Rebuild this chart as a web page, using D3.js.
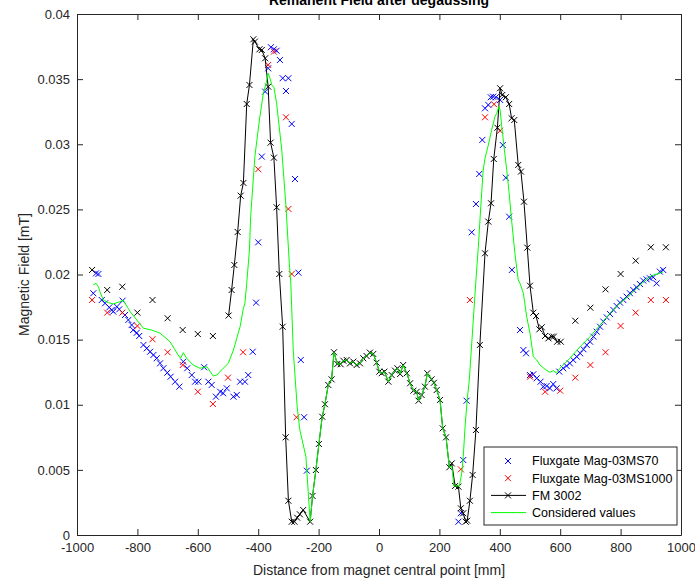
<!DOCTYPE html>
<html>
<head>
<meta charset="utf-8">
<script src="https://cdn.jsdelivr.net/npm/d3@7"></script>
<style>
  body { margin: 0; background: #fff; }
  svg { display: block; font-family: "Liberation Sans", Arial, sans-serif; }
</style>
</head>
<body>
<svg id="chart" width="695" height="578"></svg>
<script>
// ---------- DATA ----------
const title = "Remanent Field after degaussing";
const xLabel = "Distance from magnet central point [mm]";
const yLabel = "Magnetic Field [mT]";
const xTicks = [-1000, -800, -600, -400, -200, 0, 200, 400, 600, 800, 1000];
const xTickLabels = ["-1000", "-800", "-600", "-400", "-200", "0", "200", "400", "600", "800", "1000"];
const yTicks = [0, 0.005, 0.01, 0.015, 0.02, 0.025, 0.03, 0.035, 0.04];
const yTickLabels = ["0", "0.005", "0.01", "0.015", "0.02", "0.025", "0.03", "0.035", "0.04"];
const seriesNames = ["Fluxgate Mag-03MS70", "Fluxgate Mag-03MS1000", "FM 3002", "Considered values"];

// Fluxgate Mag-03MS70 (blue x)
const mag70 = [
  [-946,0.01856],[-937,0.02009],[-929,0.02004],[-918,0.01804],[-907,0.01779],[-893,0.01748],[-885,0.01728],
  [-880,0.01715],[-868,0.01753],[-860,0.01733],[-849,0.01799],[-841,0.01689],[-830,0.01651],[-819,0.01612],
  [-814,0.01574],[-802,0.01553],[-794,0.01528],[-780,0.01459],[-769,0.01433],[-758,0.01407],[-747,0.01382],
  [-736,0.01357],[-725,0.01318],[-714,0.0128],[-701,0.01246],[-690,0.01215],[-675,0.01177],[-661,0.01139],
  [-648,0.01331],[-635,0.0128],[-620,0.01228],[-609,0.01177],[-598,0.01177],[-579,0.01288],[-565,0.01177],
  [-554,0.01152],[-540,0.01062],[-526,0.011],[-516,0.01088],[-504,0.01126],[-482,0.01062],[-471,0.01075],
  [-460,0.01177],[-444,0.01177],[-433,0.01228],[-418,0.01407],[-407,0.01784],
  [-400,0.02247],[-388,0.02905],[-377,0.03404],[-367,0.03583],[-358,0.03745],[-348,0.03729],[-339,0.03718],
  [-328,0.03647],[-319,0.03507],[-300,0.03507],[-308,0.03409],[-289,0.03156],[-278,0.02733],[-267,0.02014],
  [-259,0.01344],[-248,0.00904],[-239,0.00494],
  [263,0.00102],[271,0.00167],[279,0.00576],[290,0.01031],[307,0.02324],[321,0.02541],[332,0.02772],
  [342,0.03033],[351,0.03276],[362,0.03302],[370,0.03361],[378,0.03365],[387,0.03361],[401,0.0334],
  [410,0.02994],[420,0.02743],[431,0.02444],[440,0.02035],[467,0.01574],[478,0.0142],[487,0.01395],
  [500,0.01228],[511,0.01234],[522,0.01203],[535,0.01177],[544,0.01139],[555,0.01144],[566,0.01126],
  [577,0.01159],[588,0.01126],[597,0.01254],[610,0.0128],[621,0.01298],[632,0.01318],[643,0.01344],
  [655,0.01369],[666,0.01395],[677,0.01426],[688,0.01459],[699,0.01484],[710,0.01523],[721,0.01561],
  [732,0.01599],[743,0.01638],[754,0.01671],[765,0.01697],[776,0.01728],[787,0.01758],[798,0.01784],
  [809,0.01804],[820,0.0183],[831,0.01856],[842,0.01881],[853,0.01902],[864,0.01927],[875,0.01953],
  [886,0.01963],[897,0.01971],[908,0.01979],[919,0.01932],[930,0.02022],[941,0.02035]
];

// Fluxgate Mag-03MS1000 (red x)
const mag1000 = [
  [-950,0.01804],[-900,0.01707],[-850,0.01707],[-800,0.01605],[-750,0.01503],[-700,0.01403],[-650,0.01305],
  [-600,0.011],[-550,0.01006],[-500,0.01208],[-450,0.01403],[-400,0.02808],[-367,0.03609],[-348,0.03711],
  [-308,0.03207],[-300,0.02503],[-289,0.02004],[-273,0.00904],
  [271,0.00504],[301,0.01804],[351,0.03207],[381,0.03307],[401,0.03104],
  [500,0.01215],[550,0.011],[600,0.01108],[650,0.01208],[700,0.01305],[750,0.01403],[800,0.01605],
  [850,0.01707],[900,0.01804],[950,0.01804]
];

// FM 3002 (black line with x markers; null = gap in the line)
const fm3002 = [
  [-950,0.02035],null,[-900,0.01881],null,[-850,0.01906],null,[-800,0.01707],null,[-750,0.01804],null,
  [-700,0.01664],null,[-650,0.01574],null,[-600,0.01543],null,[-550,0.01528],null,
  [-498,0.01685],[-488,0.01881],[-479,0.02073],[-468,0.02326],[-458,0.02605],[-449,0.02703],[-438,0.03309],
  [-429,0.03455],[-416,0.03806],[-411,0.03788],[-396,0.03729],[-388,0.03724],[-377,0.0366],[-367,0.03442],
  [-359,0.03012],[-348,0.02897],[-339,0.02516],[-330,0.02004],[-319,0.01599],[-309,0.0075],[-300,0.00263],
  [-289,0.00102],[-280,0.00102],[-271,0.00133],[-262,0.00159],[-251,0.00192],[-228,0.00102],[-220,0.003],
  [-209,0.00499],[-199,0.00699],[-188,0.00908],[-179,0.01004],[-168,0.01152],[-157,0.01195],[-149,0.01403],
  [-138,0.01313],[-127,0.01311],[-118,0.01338],[-107,0.01344],[-96,0.01318],[-85,0.01331],[-74,0.01305],
  [-63,0.01318],[-52,0.01357],[-41,0.01374],[-30,0.014],[-19,0.0139],[-8,0.01323],[1,0.01254],[9,0.01242],
  [18,0.01254],[31,0.01177],[42,0.01228],[53,0.01262],[61,0.0128],[70,0.01236],[80,0.01305],[92,0.01242],
  [103,0.01165],[114,0.01108],[125,0.011],[131,0.01031],[141,0.01075],[152,0.01139],[160,0.01242],
  [174,0.01195],[182,0.01169],[191,0.01113],[202,0.01037],[211,0.00819],[222,0.0075],[233,0.0052],
  [241,0.0055],[252,0.00376],[263,0.00371],[271,0.00205],[279,0.00167],[287,0.00102],[292,0.0011],
  [301,0.00263],[310,0.00461],[321,0.00806],[334,0.01459],[351,0.02163],[362,0.02406],[371,0.02547],
  [380,0.02887],[392,0.03127],[401,0.0343],[408,0.03378],[420,0.03361],[431,0.03309],[439,0.032],
  [448,0.03186],[461,0.02841],[470,0.0279],[480,0.02559],[491,0.02206],[500,0.01914],[511,0.01707],
  [520,0.01681],[531,0.01579],[539,0.01595],[550,0.01528],[561,0.0151],[572,0.01523],[579,0.01523],
  [590,0.01484],[602,0.01484],null,
  [650,0.01645],null,[700,0.01745],null,[750,0.01886],null,[800,0.02004],null,[850,0.02106],null,
  [900,0.02209],null,[950,0.02209]
];

// Considered values (green line)
const considered = [
  [-946,0.0192],[-937,0.01932],[-929,0.01906],[-924,0.01868],[-913,0.01804],[-896,0.01784],[-880,0.01774],
  [-858,0.01791],[-847,0.01804],[-841,0.01779],[-824,0.01715],[-802,0.01651],[-780,0.01587],[-753,0.01574],
  [-725,0.01549],[-692,0.01484],[-665,0.01382],[-657,0.01357],[-648,0.014],[-637,0.01357],[-615,0.01305],
  [-593,0.0128],[-570,0.01292],[-549,0.01221],[-537,0.01228],[-516,0.0128],[-499,0.01318],[-482,0.0142],
  [-460,0.01599],[-449,0.01741],[-444,0.01779],[-438,0.01932],[-429,0.02188],[-425,0.02444],[-411,0.02905],
  [-396,0.03186],[-383,0.03391],[-374,0.03468],[-367,0.03545],[-361,0.03507],[-355,0.03455],[-348,0.03437],
  [-339,0.03315],[-322,0.02956],[-308,0.02521],[-297,0.02086],[-292,0.01932],[-284,0.0142],[-271,0.00985],
  [-262,0.00806],[-242,0.00601],[-228,0.00102],[-220,0.003],
  [-209,0.00499],[-199,0.00699],[-188,0.00908],[-179,0.01004],[-168,0.01152],[-157,0.01195],[-149,0.01403],
  [-138,0.01313],[-127,0.01311],[-118,0.01338],[-107,0.01344],[-96,0.01318],[-85,0.01331],[-74,0.01305],
  [-63,0.01318],[-52,0.01357],[-41,0.01374],[-30,0.014],[-19,0.0139],[-8,0.01323],[1,0.01254],[9,0.01242],
  [18,0.01254],[31,0.01177],[42,0.01228],[53,0.01262],[61,0.0128],[70,0.01236],[80,0.01305],[92,0.01242],
  [103,0.01165],[114,0.01108],[125,0.011],[131,0.01031],[141,0.01075],[152,0.01139],[160,0.01242],
  [174,0.01195],[182,0.01169],[191,0.01113],[202,0.01037],[211,0.00819],[222,0.0075],[233,0.0052],
  [241,0.0053],[248,0.00376],[266,0.00376],[274,0.00474],[279,0.00601],[285,0.00832],[292,0.01037],
  [299,0.0119],[321,0.01958],[329,0.02214],[337,0.02521],[345,0.02802],[351,0.02892],[362,0.02994],
  [373,0.0311],[384,0.03212],[390,0.03238],[397,0.03289],[401,0.03263],[406,0.03148],[414,0.02981],
  [423,0.02802],[431,0.02624],[439,0.02419],[450,0.02163],[461,0.01958],[467,0.01932],[478,0.01856],
  [489,0.01676],[500,0.01549],[511,0.01369],[522,0.01344],[533,0.01305],[550,0.01272],[566,0.01249],
  [577,0.01262],[588,0.01242],[599,0.0128],[632,0.01357],[666,0.01446],[699,0.01523],[732,0.01612],
  [765,0.01702],[798,0.01779],[831,0.01843],[864,0.0192],[897,0.01983],[908,0.01996],[930,0.02009],
  [941,0.02022]
];

// ---------- CHART ----------
const svg = d3.select("#chart");
const W = 695, H = 578;
const m = { left: 77, right: 14, top: 14, bottom: 43 };
const pw = W - m.left - m.right, ph = H - m.top - m.bottom;

const x = d3.scaleLinear().domain([-1000, 1000]).range([m.left, m.left + pw]);
const y = d3.scaleLinear().domain([0, 0.04]).range([m.top + ph, m.top]);

svg.append("defs").append("clipPath").attr("id", "clip")
  .append("rect").attr("x", m.left).attr("y", m.top).attr("width", pw).attr("height", ph);

svg.append("rect").attr("x", m.left).attr("y", m.top).attr("width", pw).attr("height", ph).attr("fill", "#fff");

const plot = svg.append("g").attr("clip-path", "url(#clip)");

const cross = (g, data, color) => {
  const s = 3;
  g.selectAll(null).data(data).enter().append("path")
    .attr("d", d => `M${x(d[0]) - s},${y(d[1]) - s}L${x(d[0]) + s},${y(d[1]) + s}M${x(d[0]) - s},${y(d[1]) + s}L${x(d[0]) + s},${y(d[1]) - s}`)
    .attr("stroke", color).attr("stroke-width", 1).attr("fill", "none");
};

const line = d3.line().defined(d => d !== null).x(d => x(d[0])).y(d => y(d[1]));

cross(plot.append("g"), mag70, "#0000ff");
cross(plot.append("g"), mag1000, "#ff0000");
plot.append("path").datum(fm3002).attr("d", line).attr("fill", "none").attr("stroke", "#000").attr("stroke-width", 1);
cross(plot.append("g"), fm3002.filter(d => d !== null), "#000");
plot.append("path").datum(considered).attr("d", line).attr("fill", "none").attr("stroke", "#00ff00").attr("stroke-width", 1);

// axes (MATLAB style box with inward ticks)
const tickLen = 6;
const fmtX = d => xTickLabels[xTicks.indexOf(d)];
const fmtY = d => yTickLabels[yTicks.indexOf(d)];
const axB = d3.axisBottom(x).tickValues(xTicks).tickSizeInner(-tickLen).tickSizeOuter(0).tickPadding(8).tickFormat(fmtX);
const axT = d3.axisTop(x).tickValues(xTicks).tickSizeInner(-tickLen).tickSizeOuter(0).tickFormat("");
const axL = d3.axisLeft(y).tickValues(yTicks).tickSizeInner(-tickLen).tickSizeOuter(0).tickPadding(7).tickFormat(fmtY);
const axR = d3.axisRight(y).tickValues(yTicks).tickSizeInner(-tickLen).tickSizeOuter(0).tickFormat("");

const styleAx = g => {
  g.selectAll("path.domain").attr("stroke", "#262626");
  g.selectAll(".tick line").attr("stroke", "#262626");
  g.selectAll(".tick text").attr("fill", "#262626").attr("font-size", 13).attr("font-family", "Liberation Sans, Arial, sans-serif");
};
svg.append("g").attr("transform", `translate(0,${m.top + ph})`).call(axB).call(styleAx);
svg.append("g").attr("transform", `translate(0,${m.top})`).call(axT).call(styleAx);
svg.append("g").attr("transform", `translate(${m.left},0)`).call(axL).call(styleAx);
svg.append("g").attr("transform", `translate(${m.left + pw},0)`).call(axR).call(styleAx);

// title and labels
svg.append("text").attr("x", x(0)).attr("y", 5).attr("text-anchor", "middle")
  .attr("font-size", 14).attr("font-weight", "bold").attr("fill", "#000").text(title);
svg.append("text").attr("x", x(0)).attr("y", 575).attr("text-anchor", "middle")
  .attr("font-size", 14).attr("fill", "#262626").text(xLabel);
svg.append("text").attr("transform", `translate(29,${m.top + ph / 2}) rotate(-90)`).attr("text-anchor", "middle")
  .attr("font-size", 14).attr("fill", "#262626").text(yLabel);

// legend
const lg = svg.append("g");
const lx = 484, ly = 447, lw = 193, lh = 78;
lg.append("rect").attr("x", lx).attr("y", ly).attr("width", lw).attr("height", lh)
  .attr("fill", "#fff").attr("stroke", "#262626").attr("stroke-width", 1);
const rows = [
  { name: seriesNames[0], color: "#0000ff", marker: true, line: false },
  { name: seriesNames[1], color: "#ff0000", marker: true, line: false },
  { name: seriesNames[2], color: "#000", marker: true, line: true },
  { name: seriesNames[3], color: "#00ff00", marker: false, line: true }
];
rows.forEach((r, i) => {
  const cy = ly + 14 + i * 17.2;
  const cx = 508;
  if (r.line) lg.append("line").attr("x1", 491).attr("x2", 526).attr("y1", cy).attr("y2", cy)
    .attr("stroke", r.color).attr("stroke-width", 1);
  if (r.marker) lg.append("path")
    .attr("d", `M${cx - 3},${cy - 3}L${cx + 3},${cy + 3}M${cx - 3},${cy + 3}L${cx + 3},${cy - 3}`)
    .attr("stroke", r.color).attr("stroke-width", 1);
  lg.append("text").attr("x", 532).attr("y", cy).attr("dy", "0.35em")
    .attr("font-size", 12.5).attr("fill", "#000").text(r.name);
});
</script>
</body>
</html>
